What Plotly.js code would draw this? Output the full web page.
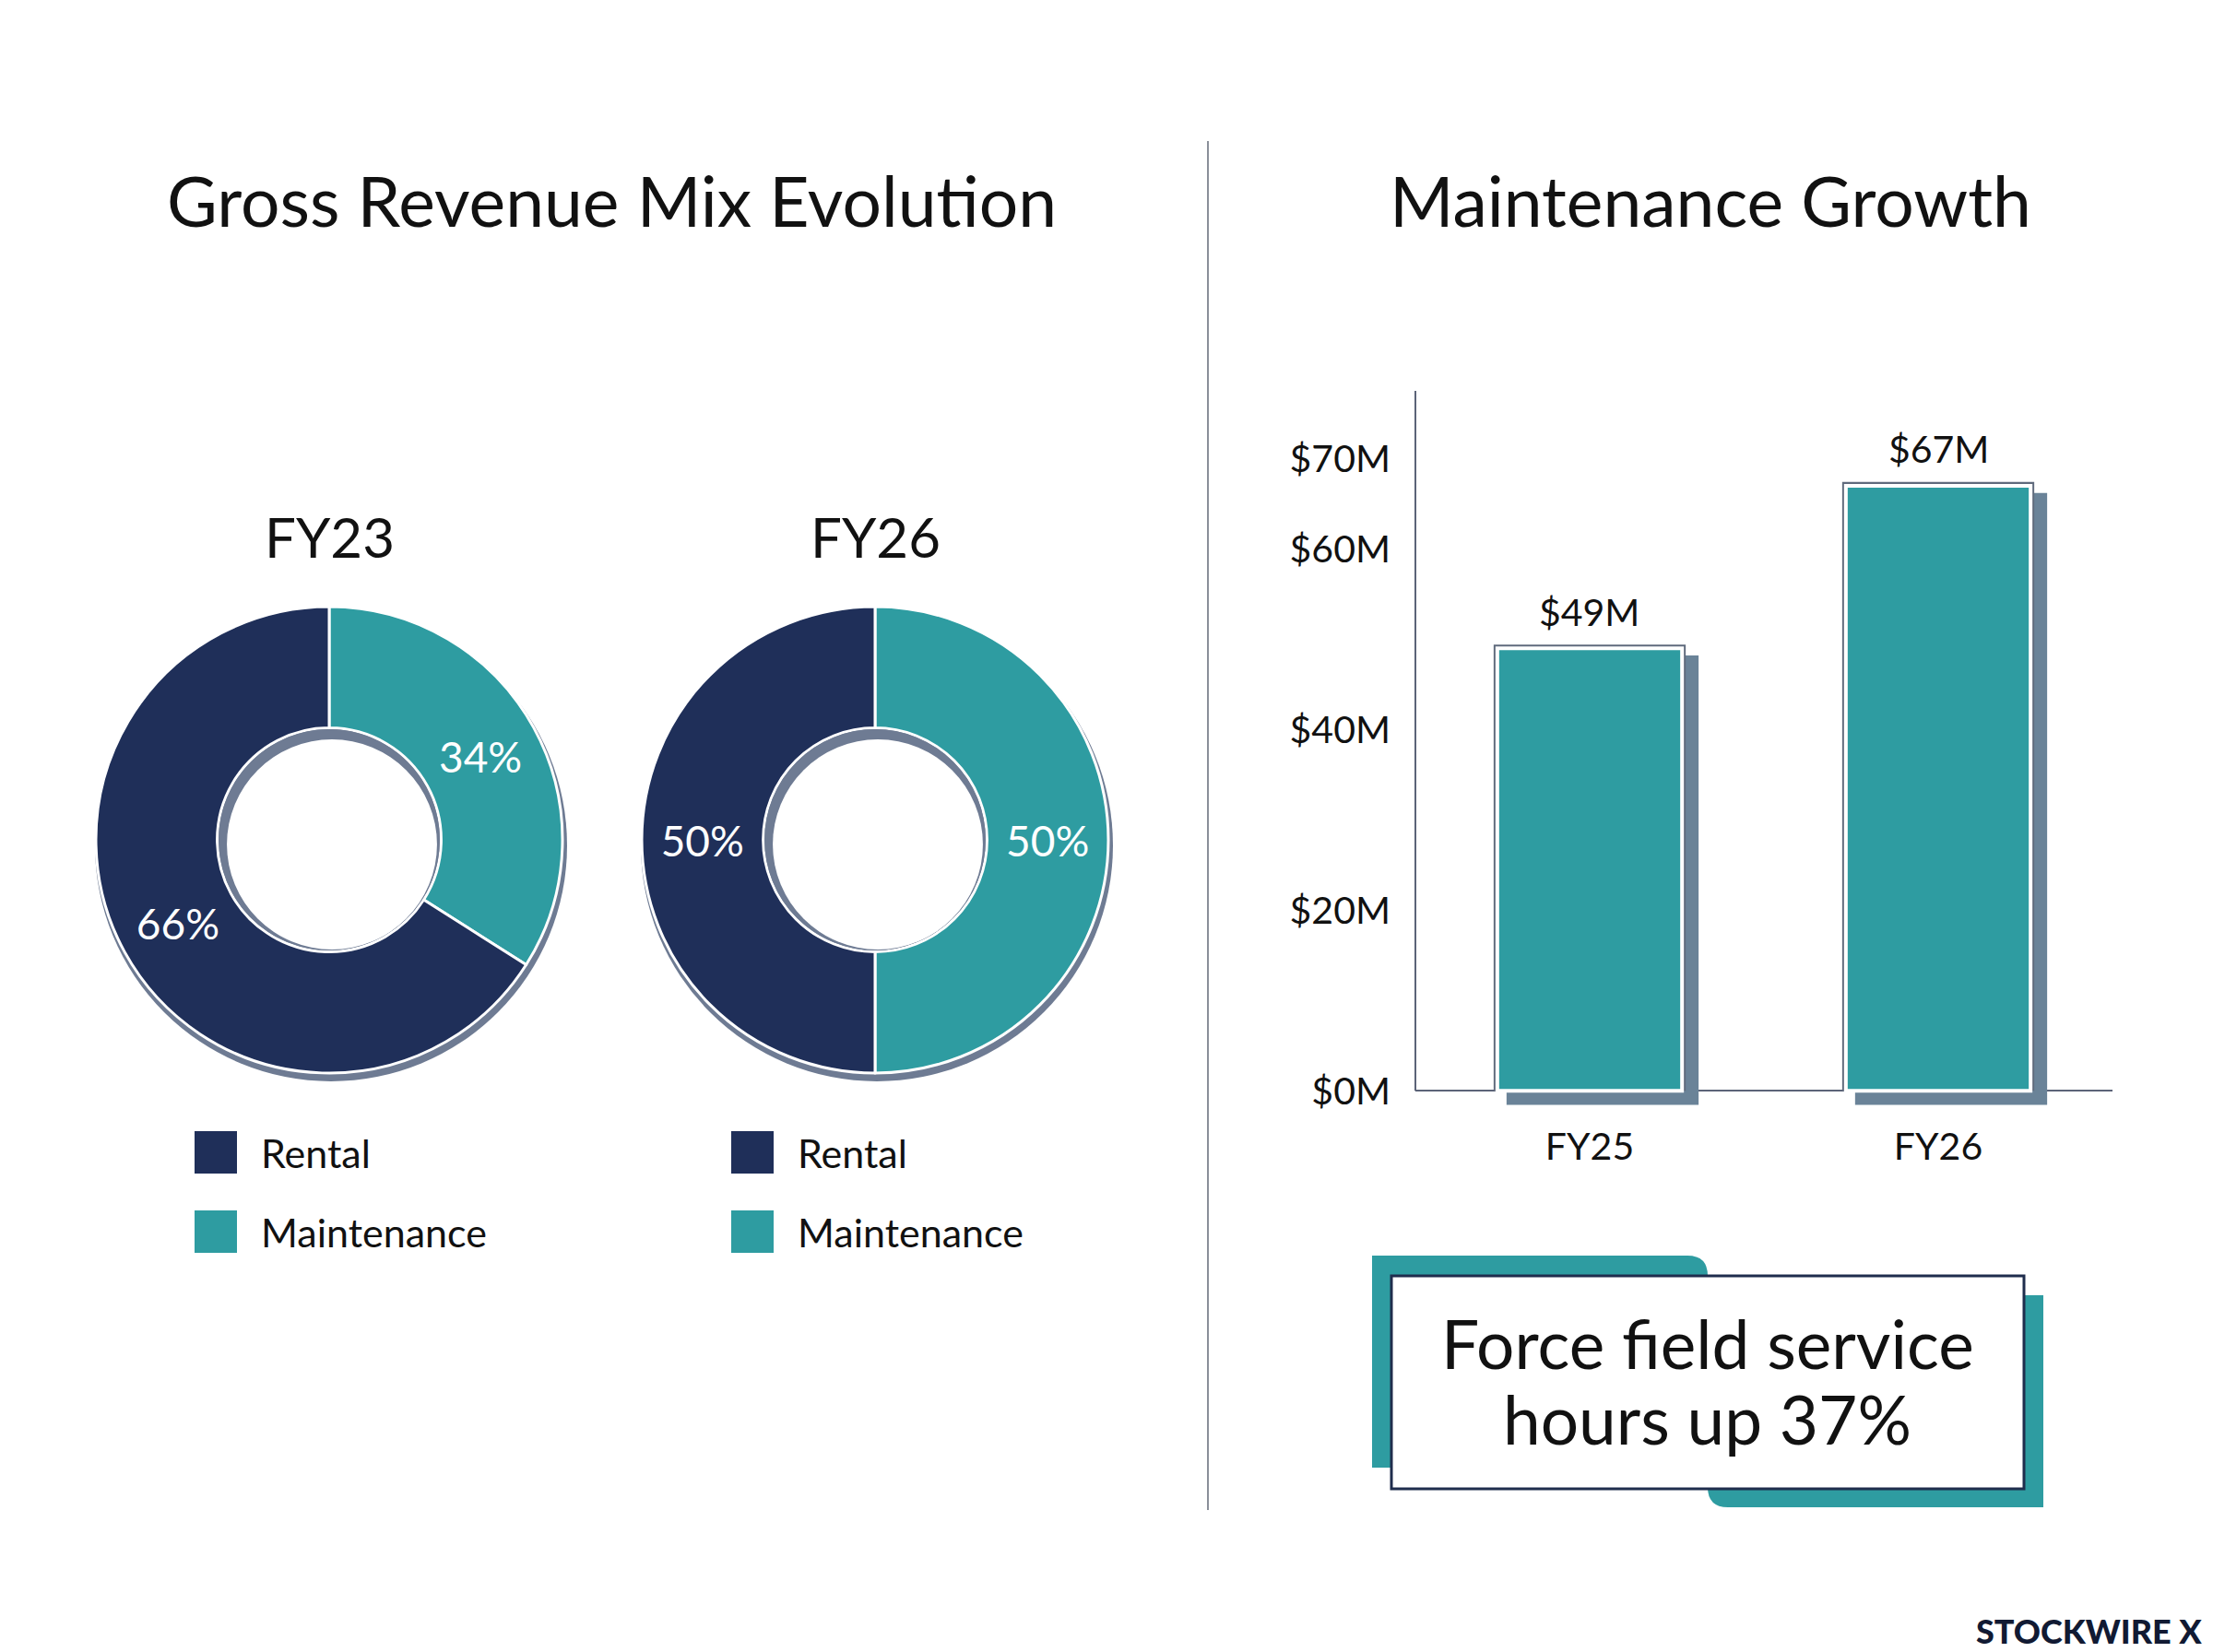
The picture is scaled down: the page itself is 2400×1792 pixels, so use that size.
<!DOCTYPE html>
<html>
<head>
<meta charset="utf-8">
<script src="https://cdn.plot.ly/plotly-3.0.1.min.js"></script>
<style>html,body{margin:0;padding:0;background:#fff;}#chart{width:2400px;height:1792px;}</style>
</head>
<body>
<div id="chart"></div>
<script>
// ---- data ----
const mixLabels = ['Rental', 'Maintenance'];
const mixFY23 = [66, 34];
const mixFY26 = [50, 50];
const mixYears = ['FY23', 'FY26'];
const barCats = ['FY25', 'FY26'];
const barVals = [49, 67];
const yTicks = [0, 20, 40, 60, 70];
const yTickText = ['$0M', '$20M', '$40M', '$60M', '$70M'];
const leftTitle = 'Gross Revenue Mix Evolution';
const rightTitle = 'Maintenance Growth';
const calloutLines = ['Force field service', 'hours up 37%'];
const brand = 'STOCKWIRE X';

// ---- style ----
const W = 2400, H = 1792;
const NAVY = '#1f2f59', TEAL = '#2e9ca1', SLATE = '#6e7b93', INK = '#111111';
const FONT = 'Lato, "Open Sans", sans-serif';
const px = x => x / W, py = y => 1 - y / H;
const mixColors = [NAVY, TEAL];

const pieCenters = [[357, 911], [949, 911]];
const pieR = 253, HOLE = 0.48;

const traces = [];
const shapes = [];
const annotations = [];

[mixFY23, mixFY26].forEach((vals, i) => {
  const [cx, cy] = pieCenters[i];
  // Maintenance drawn first, clockwise from 12 o'clock
  traces.push({
    type: 'pie', labels: mixLabels.slice().reverse(), values: vals.slice().reverse(), sort: false,
    direction: 'clockwise', rotation: 0, hole: HOLE,
    domain: {x: [px(cx - pieR), px(cx + pieR)], y: [py(cy + pieR), py(cy - pieR)]},
    marker: {colors: mixColors.slice().reverse(), line: {color: '#ffffff', width: 3}},
    textinfo: 'percent', textposition: 'inside', insidetextorientation: 'horizontal',
    textfont: {family: FONT, size: 46, color: '#ffffff'},
    showlegend: false, hoverinfo: 'label+percent'
  });
  // outer drop shadow
  shapes.push({type: 'circle', layer: 'below', xref: 'paper', yref: 'paper',
    x0: px(cx + 2 - 256), x1: px(cx + 2 + 256), y0: py(cy + 6 + 256), y1: py(cy + 6 - 256),
    fillcolor: SLATE, line: {width: 0}});
  // inner hole shadow crescent
  const ri = pieR * HOLE - 1.5;
  shapes.push({type: 'circle', layer: 'above', xref: 'paper', yref: 'paper',
    x0: px(cx - ri), x1: px(cx + ri), y0: py(cy + ri), y1: py(cy - ri),
    fillcolor: SLATE, line: {width: 0}});
  const rw = ri - 6;
  shapes.push({type: 'circle', layer: 'above', xref: 'paper', yref: 'paper',
    x0: px(cx + 3 - rw), x1: px(cx + 3 + rw), y0: py(cy + 5 + rw), y1: py(cy + 5 - rw),
    fillcolor: '#ffffff', line: {width: 0}});
  // year label
  annotations.push({xref: 'paper', yref: 'paper', x: px(cx), y: py(582), text: mixYears[i],
    showarrow: false, xanchor: 'center', yanchor: 'middle',
    font: {family: FONT, size: 60, color: INK}});
  // legend
  const lx = [211, 793][i];
  mixLabels.forEach((lab, k) => {
    const ly = [1250, 1336][k];
    shapes.push({type: 'rect', xref: 'paper', yref: 'paper',
      x0: px(lx), x1: px(lx + 46), y0: py(ly + 23), y1: py(ly - 23),
      fillcolor: mixColors[k], line: {width: 0}});
    annotations.push({xref: 'paper', yref: 'paper', x: px(lx + 70), y: py(ly), text: lab,
      showarrow: false, xanchor: 'left', yanchor: 'middle',
      font: {family: FONT, size: 43, color: INK}});
  });
});

// bar chart: shadow, border, main
traces.push({type: 'bar', x: barCats, y: barVals.map(v => v + 0.75), base: -1.55,
  width: 0.551, offset: -0.2385, marker: {color: '#6a8398'}, hoverinfo: 'skip', showlegend: false});
traces.push({type: 'bar', x: barCats, y: barVals.map(v => v + 0.41),
  width: 0.551, marker: {color: '#5f6a7c'}, hoverinfo: 'skip', showlegend: false});
traces.push({type: 'bar', x: barCats, y: barVals, width: 0.53,
  marker: {color: TEAL, line: {color: '#ffffff', width: 4}}, showlegend: false});

barCats.forEach((c, i) => {
  annotations.push({xref: 'x', yref: 'y', x: c, y: barVals[i], yshift: 40,
    text: '$' + barVals[i] + 'M', showarrow: false, yanchor: 'middle',
    font: {family: FONT, size: 41, color: INK}});
});

const xDom = [px(1535), px(2291)];
// y axis line (from 0 to top)
shapes.push({type: 'line', xref: 'paper', yref: 'y', x0: xDom[0], x1: xDom[0], y0: 0, y1: 77.5,
  line: {color: '#5c6478', width: 2}});

// titles
annotations.push({xref: 'paper', yref: 'paper', x: px(663), y: py(217), text: leftTitle,
  showarrow: false, xanchor: 'center', yanchor: 'middle', font: {family: FONT, size: 75, color: INK}});
annotations.push({xref: 'paper', yref: 'paper', x: px(1855), y: py(217), text: rightTitle,
  showarrow: false, xanchor: 'center', yanchor: 'middle', font: {family: FONT, size: 75, color: INK}});

// divider
shapes.push({type: 'line', xref: 'paper', yref: 'paper', x0: px(1310), x1: px(1310), y0: py(153), y1: py(1638),
  line: {color: '#8a8f99', width: 2}});

// callout
{
  const r = 22;
  let x0 = px(1488), x1 = px(1852), y0 = py(1362), y1 = py(1592), rx = r / W, ry = r / H;
  shapes.push({type: 'path', xref: 'paper', yref: 'paper', fillcolor: TEAL, line: {width: 0},
    path: `M${x0},${y0} L${x1 - rx},${y0} Q${x1},${y0} ${x1},${y0 - ry} L${x1},${y1} L${x0},${y1} Z`});
  x0 = px(1852); x1 = px(2216); y0 = py(1405); y1 = py(1635);
  shapes.push({type: 'path', xref: 'paper', yref: 'paper', fillcolor: TEAL, line: {width: 0},
    path: `M${x0},${y0} L${x1},${y0} L${x1},${y1} L${x0 + rx},${y1} Q${x0},${y1} ${x0},${y1 + ry} Z`});
  shapes.push({type: 'rect', xref: 'paper', yref: 'paper', x0: px(1509), x1: px(2195), y0: py(1615), y1: py(1384),
    fillcolor: '#ffffff', line: {color: '#1f2d4d', width: 3}});
  calloutLines.forEach((t, k) => {
    annotations.push({xref: 'paper', yref: 'paper', x: px(1852), y: py([1457, 1539][k]), text: t,
      showarrow: false, xanchor: 'center', yanchor: 'middle', font: {family: FONT, size: 73, color: INK}});
  });
}

// brand
annotations.push({xref: 'paper', yref: 'paper', x: px(2390), y: py(1769), text: brand,
  showarrow: false, xanchor: 'right', yanchor: 'middle',
  font: {family: 'Lato, Inter, sans-serif', size: 36, weight: 900, color: '#111a33'}});

const layout = {
  width: W, height: H, margin: {l: 0, r: 0, t: 0, b: 0},
  paper_bgcolor: '#ffffff', plot_bgcolor: 'rgba(0,0,0,0)',
  barmode: 'overlay', showlegend: false,
  xaxis: {domain: xDom, type: 'category', range: [-0.5, 1.5], showgrid: false, showline: false,
    zeroline: false, ticks: '', ticklabelstandoff: 16, fixedrange: true,
    tickfont: {family: FONT, size: 41, color: INK}},
  yaxis: {domain: [py(1200), py(424)], range: [-1.7, 77.5], showgrid: false, showline: false,
    zeroline: true, zerolinecolor: '#5c6478', zerolinewidth: 2,
    tickmode: 'array', tickvals: yTicks, ticktext: yTickText, ticks: '', ticklabelstandoff: 26,
    tickfont: {family: FONT, size: 41, color: INK}},
  shapes: shapes, annotations: annotations
};

Plotly.newPlot('chart', traces, layout, {displayModeBar: false, staticPlot: true});
</script>
</body>
</html>
